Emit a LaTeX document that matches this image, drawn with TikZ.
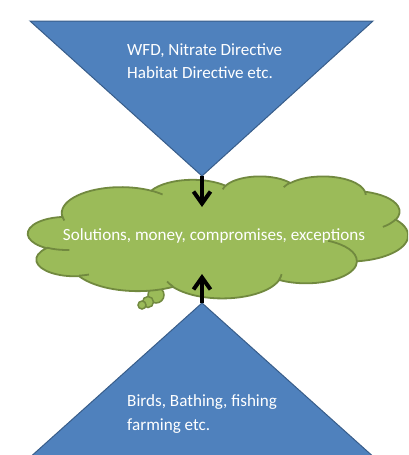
\documentclass[tikz,border=0pt]{standalone}
\usepackage{fontspec}
\setmainfont{Carlito}
\usetikzlibrary{arrows.meta}
\definecolor{triblue}{HTML}{4F81BD}
\definecolor{triedge}{HTML}{385D8A}
\definecolor{cloudgreen}{HTML}{9BBB59}
\definecolor{cloudedge}{HTML}{71893F}
\tikzset{
  tri/.style={fill=triblue,draw=triedge,line width=1pt,line join=miter},
  cloudbody/.style={fill=cloudgreen,draw=cloudedge,line width=1.8pt},
  cloudmark/.style={draw=cloudedge,line width=1.8pt},
  bubble/.style={circle,fill=cloudgreen,draw=cloudedge,line width=1.5pt,inner sep=0pt},
  label/.style={text=white,font=\fontsize{17.1}{24}\selectfont,inner sep=0pt},
  conn/.style={line width=4pt,-{Straight Barb[length=12pt,width=17pt,line width=4pt]}},
  cloudarc/.style n args={4}{x radius=#1,y radius=#2,
    start angle={atan2(#1*sin(#3),#2*cos(#3))},
    delta angle={mod(atan2(#1*sin(#3+#4),#2*cos(#3+#4))-atan2(#1*sin(#3),#2*cos(#3))+720,360)}},
}
\begin{document}
\begin{tikzpicture}[x=1pt,y=-1pt]
\useasboundingbox (0,0) rectangle (408,455);
\clip (0,0) rectangle (408,455);
% thought bubbles
\node[bubble,minimum size=16pt] (b1) at (156,295) {};
\node[bubble,minimum size=11pt] (b2) at (148,302) {};
\node[bubble,minimum size=8pt] (b3) at (142,305) {};
% cloud
\begin{scope}[shift={(28,176)},x=0.8796pt,y=-0.2824pt]
\path[cloudbody] (39.00,143.70)
  arc[cloudarc={67.53}{91.90}{-190.4875}{123.7805}]
  arc[cloudarc={53.33}{72.67}{-144.1024}{89.9452}]
  arc[cloudarc={43.65}{59.45}{-145.8079}{99.7230}]
  arc[cloudarc={48.57}{65.95}{-130.9861}{117.2417}]
  arc[cloudarc={53.33}{72.73}{-78.7089}{109.0269}]
  arc[cloudarc={67.75}{92.20}{-46.2673}{130.2690}]
  arc[cloudarc={57.85}{78.67}{0.6250}{114.0333}]
  arc[cloudarc={67.52}{92.15}{22.4516}{115.1726}]
  arc[cloudarc={77.20}{105.43}{66.2426}{75.7110}]
  arc[cloudarc={43.60}{59.18}{-274.9421}{146.7356}]
  arc[cloudarc={43.45}{59.45}{-246.8285}{152.5189}] -- cycle;
\path[cloudmark]
  (46.93,261.77) arc[cloudarc={43.45}{59.45}{86.742}{26.4295}]
  (69.28,348.99) arc[cloudarc={43.60}{59.18}{73.6105}{11.4475}]
  (164.78,390.90) arc[cloudarc={67.52}{92.15}{137.6242}{14.0811}]
  (288.27,347.51) arc[cloudarc={67.52}{92.15}{6.4533}{15.9984}]
  (341.29,229.54) arc[cloudarc={57.85}{78.67}{-70.2924}{70.9174}]
  (417.98,153.54) arc[cloudarc={53.33}{72.73}{30.3180}{27.7515}]
  (383.24,54.26) arc[cloudarc={48.57}{65.95}{-13.7443}{14.8589}]
  (290.78,39.52) arc[cloudarc={48.57}{65.95}{-149.1815}{18.1954}]
  (221.41,47.20) arc[cloudarc={43.65}{59.45}{-163.4943}{17.6864}]
  (140.00,51.92) arc[cloudarc={67.53}{91.90}{-66.7070}{12.3194}]
  (41.27,157.89) arc[cloudarc={67.53}{91.90}{157.6544}{11.8582}];
\end{scope}
\node[label,anchor=base] (ctext) at (214,240.5) {Solutions, money, compromises, exceptions};
% triangles
\coordinate (tapex) at (202,176);
\coordinate (bapex) at (202,303);
\path[tri] (30,21) -- (373,21) -- (tapex) -- cycle;
\path[tri] (bapex) -- (377,460) -- (27,460) -- cycle;
\node[label,anchor=base west] (t1) at (127,55) {WFD, Nitrate Directive};
\node[label,anchor=base west] (t2) at (127,78) {Habitat Directive etc.};
\node[label,anchor=base west] (u1) at (127,406.5) {Birds, Bathing, fishing};
\node[label,anchor=base west] (u2) at (127,430) {farming etc.};
% arrows
\coordinate (ttip) at (202,207);
\coordinate (btip) at (202,274);
\draw[conn] (tapex) -- (ttip);
\draw[conn] (bapex) -- (btip);
\end{tikzpicture}
\end{document}
